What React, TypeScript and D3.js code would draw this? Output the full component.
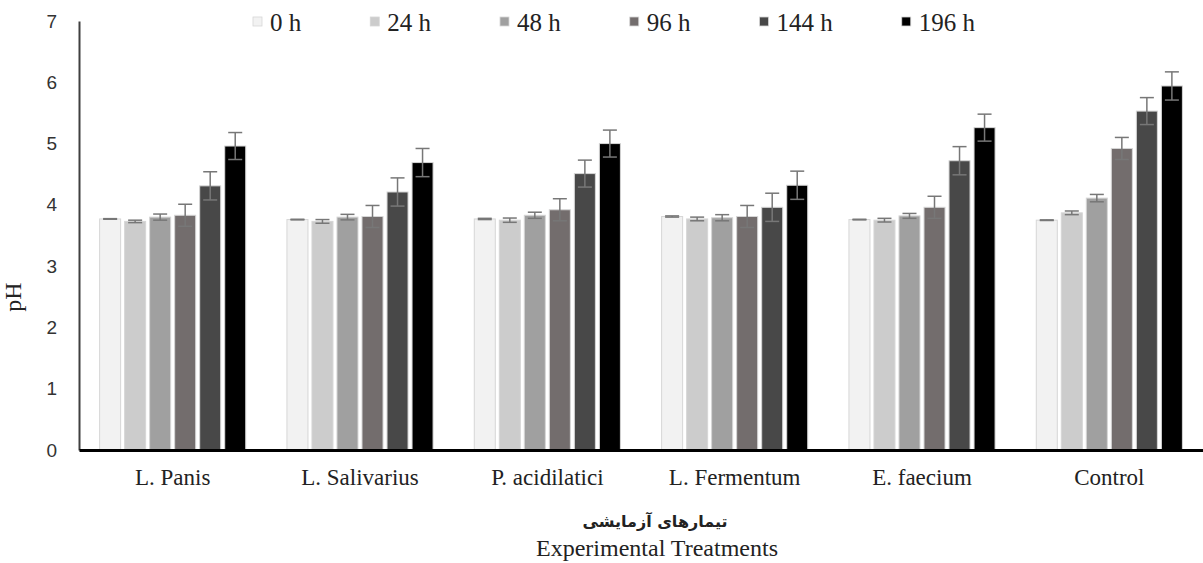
import React, { useRef, useEffect } from "react";
import * as d3 from "d3";

// categories and series
const treatments = ["L. Panis", "L. Salivarius", "P. acidilatici", "L. Fermentum", "E. faecium", "Control"];
const times = ["0 h", "24 h", "48 h", "96 h", "144 h", "196 h"];
const colors = ["#f2f2f2", "#cccccc", "#a0a0a0", "#736d6d", "#484848", "#000000"];

// mean pH for each treatment, one array per sampling time
const ph0 = [3.77, 3.76, 3.77, 3.81, 3.76, 3.75];
const ph24 = [3.73, 3.73, 3.75, 3.77, 3.75, 3.87];
const ph48 = [3.8, 3.8, 3.83, 3.79, 3.82, 4.11];
const ph96 = [3.83, 3.81, 3.92, 3.81, 3.96, 4.92];
const ph144 = [4.31, 4.21, 4.51, 3.96, 4.72, 5.53];
const ph196 = [4.96, 4.69, 5.0, 4.32, 5.26, 5.94];

// error bar half-widths
const err0 = [0.005, 0.005, 0.01, 0.01, 0.005, 0.005];
const err24 = [0.02, 0.03, 0.035, 0.03, 0.03, 0.03];
const err48 = [0.05, 0.045, 0.05, 0.05, 0.04, 0.06];
const err96 = [0.18, 0.18, 0.18, 0.18, 0.18, 0.18];
const err144 = [0.23, 0.23, 0.22, 0.23, 0.23, 0.22];
const err196 = [0.22, 0.23, 0.22, 0.23, 0.22, 0.23];

const yTicks = [0, 1, 2, 3, 4, 5, 6, 7];

const values = [ph0, ph24, ph48, ph96, ph144, ph196];
const errors = [err0, err24, err48, err96, err144, err196];

const W = 1203;
const H = 563;
const serif = "'Liberation Serif', 'Times New Roman', serif";

const App = () => {
  const svgRef = useRef<SVGSVGElement>(null);

  useEffect(() => {
    const svg = d3.select(svgRef.current);
    svg.selectAll("*").remove();

    const x0 = d3.scaleBand().domain(treatments).range([79, 1203]).paddingInner(0.22).paddingOuter(0.11);
    const x1 = d3.scaleBand().domain(times).range([0, x0.bandwidth()]).paddingInner(0.16);
    const y = d3.scaleLinear().domain([0, 7]).range([450, 21]);

    // flat rows for bars
    const rows = treatments.flatMap((t, i) =>
      times.map((h, j) => ({ t, h, j, v: values[j][i], e: errors[j][i] }))
    );

    svg
      .append("g")
      .selectAll("rect")
      .data(rows)
      .join("rect")
      .attr("x", d => x0(d.t)! + x1(d.h)!)
      .attr("y", d => y(d.v))
      .attr("width", x1.bandwidth())
      .attr("height", d => y(0) - y(d.v))
      .attr("fill", d => colors[d.j])
      .attr("stroke", "#d6d6d6")
      .attr("stroke-width", 1);

    // error bars
    const eb = svg.append("g").attr("stroke", "#777").attr("stroke-width", 1.5);
    const cx = d => x0(d.t)! + x1(d.h)! + x1.bandwidth() / 2;
    eb.selectAll(".stem")
      .data(rows)
      .join("line")
      .attr("x1", cx)
      .attr("x2", cx)
      .attr("y1", d => y(d.v + d.e))
      .attr("y2", d => y(d.v - d.e));
    eb.selectAll(".capT")
      .data(rows)
      .join("line")
      .attr("x1", d => cx(d) - 7)
      .attr("x2", d => cx(d) + 7)
      .attr("y1", d => y(d.v + d.e))
      .attr("y2", d => y(d.v + d.e));
    eb.selectAll(".capB")
      .data(rows)
      .join("line")
      .attr("x1", d => cx(d) - 7)
      .attr("x2", d => cx(d) + 7)
      .attr("y1", d => y(d.v - d.e))
      .attr("y2", d => y(d.v - d.e));

    // Y axis
    const yAxis = svg
      .append("g")
      .attr("transform", "translate(79,0)")
      .call(
        d3.axisLeft(y).tickValues(yTicks).tickFormat(d3.format("d")).tickSize(0).tickSizeOuter(0).tickPadding(22)
      );
    yAxis.select(".domain").attr("stroke", "#404040").attr("stroke-width", 2);
    yAxis
      .selectAll("text")
      .attr("font-family", "'Liberation Sans', Arial, sans-serif")
      .attr("font-size", 19)
      .attr("fill", "#333");

    // X axis
    const xAxis = svg
      .append("g")
      .attr("transform", "translate(0,450)")
      .call(d3.axisBottom(x0).tickSize(0).tickSizeOuter(0).tickPadding(19));
    xAxis.select(".domain").attr("stroke", "#000").attr("stroke-width", 3);
    xAxis.selectAll("text").attr("font-family", serif).attr("font-size", 23).attr("fill", "#222");

    // axis titles
    svg
      .append("text")
      .attr("transform", "translate(21,297) rotate(-90)")
      .attr("text-anchor", "middle")
      .attr("font-family", serif)
      .attr("font-size", 24)
      .attr("fill", "#222")
      .text("pH");
    svg
      .append("text")
      .attr("x", 655)
      .attr("y", 527)
      .attr("text-anchor", "middle")
      .attr("font-family", "'DejaVu Sans', sans-serif")
      .attr("font-weight", "bold")
      .attr("font-size", 16)
      .attr("fill", "#222")
      .attr("direction", "rtl")
      .text("تیمارهای آزمایشی");
    svg
      .append("text")
      .attr("x", 657)
      .attr("y", 556)
      .attr("text-anchor", "middle")
      .attr("font-family", serif)
      .attr("font-size", 24)
      .attr("fill", "#222")
      .text("Experimental Treatments");

    // legend
    const legend = svg.append("g");
    let lx = 253;
    times.forEach((h, j) => {
      legend
        .append("rect")
        .attr("x", lx)
        .attr("y", 17)
        .attr("width", 9)
        .attr("height", 9)
        .attr("fill", colors[j])
        .attr("stroke", "#d6d6d6")
        .attr("stroke-width", 0.8);
      const t = legend
        .append("text")
        .attr("x", lx + 17)
        .attr("y", 31)
        .attr("font-family", serif)
        .attr("font-size", 25)
        .attr("fill", "#222")
        .text(h);
      const w = (t.node() as SVGTextElement).getComputedTextLength();
      lx += 17 + w + 69;
    });
  }, []);

  return (
    <svg
      ref={svgRef}
      width={W}
      height={H}
      style={{ position: "absolute", left: 0, top: 0, background: "#fff" }}
    />
  );
};

export default App;
